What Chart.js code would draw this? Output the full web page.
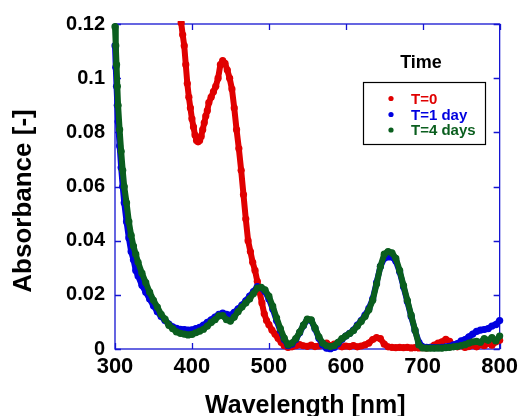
<!DOCTYPE html>
<html><head><meta charset="utf-8">
<script src="https://cdn.jsdelivr.net/npm/chart.js@4/dist/chart.umd.min.js"></script>
<style>html,body{margin:0;padding:0;background:#fff;}canvas{display:block;}</style>
</head><body>
<canvas id="c" width="523" height="416"></canvas>
<script>
// ---- data ----
const wavelengthT0 = [386,388,390,392,394,396,398,400,402,404,406,408,410,412,414,416,418,420,422,425,428,431,434,437,440,443,446,449,452,455,458,461,464,467,470,473,476,479,482,485,488,491,494,497,500,504,508,512,516,520,525,530,535,540,545,550,555,560,565,570,575,580,585,590,595,600,605,610,615,620,625,630,635,640,645,650,655,660,665,670,675,680,685,690,695,700,705,710,715,720,725,730,735,740,745,750,755,760,765,770,775,780,785,790,795,800];
const absorbanceT0 = [0.1205,0.116,0.112,0.105,0.098,0.093,0.089,0.085,0.082,0.079,0.077,0.0765,0.077,0.0785,0.081,0.0835,0.086,0.088,0.091,0.093,0.095,0.097,0.100,0.105,0.1065,0.1055,0.103,0.100,0.096,0.089,0.081,0.074,0.066,0.057,0.048,0.040,0.036,0.032,0.029,0.025,0.021,0.017,0.013,0.0105,0.009,0.007,0.0055,0.004,0.0025,0.0012,0.0006,0.0008,0.0012,0.0016,0.0012,0.001,0.0014,0.0009,0.0011,0.0016,0.0022,0.0012,0.0018,0.0014,0.0008,0.0011,0.0009,0.0013,0.0008,0.0011,0.0015,0.0022,0.0035,0.0042,0.0038,0.0018,0.0008,0.0006,0.0005,0.0006,0.0005,0.0006,0.0004,0.0005,0.0004,0.0005,0.0004,0.0006,0.0014,0.0022,0.0026,0.0036,0.0028,0.0012,0.0008,0.0012,0.0006,0.0009,0.0014,0.0008,0.0016,0.0012,0.0022,0.0014,0.0026,0.0032];
const wavelengthAged = [300,301,302,303,304,306,308,310,312,315,318,321,324,327,330,335,340,345,350,355,360,365,370,375,380,385,390,395,400,405,410,415,420,425,430,435,440,445,450,455,460,465,470,475,480,485,490,495,500,505,510,515,520,525,530,535,540,545,550,555,560,565,570,575,580,585,590,595,600,605,610,615,620,625,630,635,640,645,650,655,660,665,670,675,680,685,690,695,700,705,710,715,720,725,730,735,740,745,750,755,760,765,770,775,780,785,790,795,800];
const absorbanceT1 = [0.112,0.104,0.097,0.090,0.084,0.075,0.067,0.060,0.054,0.047,0.041,0.036,0.033,0.029,0.027,0.0235,0.021,0.0185,0.016,0.0138,0.012,0.0105,0.0092,0.0082,0.0076,0.0073,0.0072,0.007,0.0071,0.0075,0.008,0.0088,0.0098,0.0108,0.0118,0.0128,0.0133,0.0128,0.0125,0.0135,0.0148,0.0162,0.0178,0.0195,0.0212,0.023,0.0226,0.0212,0.0185,0.0148,0.0105,0.0068,0.0035,0.0012,0.0018,0.0035,0.006,0.0087,0.0108,0.0105,0.0075,0.004,0.0015,0.0003,0.0001,0.0006,0.002,0.0035,0.0048,0.0058,0.007,0.0088,0.0105,0.0125,0.015,0.0185,0.0245,0.0305,0.0335,0.034,0.034,0.0325,0.0285,0.023,0.0175,0.012,0.0068,0.0025,0.0008,0.0006,0.0006,0.0005,0.0005,0.0006,0.0008,0.001,0.0015,0.002,0.003,0.0035,0.0045,0.0055,0.0065,0.007,0.0072,0.0075,0.0085,0.009,0.0105];
const absorbanceT4 = [0.119,0.112,0.105,0.097,0.090,0.081,0.073,0.066,0.060,0.054,0.047,0.042,0.038,0.035,0.032,0.028,0.0245,0.021,0.018,0.0155,0.0128,0.011,0.0088,0.0075,0.0063,0.0058,0.0055,0.0052,0.0054,0.006,0.0066,0.0073,0.0085,0.0098,0.0108,0.0122,0.0123,0.0108,0.0103,0.0118,0.0138,0.0155,0.017,0.0185,0.0205,0.0225,0.0228,0.0218,0.0195,0.0158,0.0115,0.0075,0.004,0.0015,0.0022,0.0038,0.0062,0.0088,0.011,0.0108,0.0078,0.0045,0.0022,0.0012,0.0009,0.0012,0.0025,0.0038,0.0048,0.0057,0.0068,0.0085,0.0102,0.012,0.0145,0.018,0.024,0.0305,0.035,0.036,0.0355,0.0335,0.029,0.0235,0.018,0.0125,0.007,0.0015,0.0004,0.0003,0.0003,0.0003,0.0004,0.0003,0.0005,0.0006,0.0008,0.001,0.0013,0.0016,0.0022,0.0026,0.0028,0.0025,0.0038,0.0032,0.0042,0.003,0.0048];
const seriesLabels = ['T=0', 'T=1 day', 'T=4 days'];
const legendTitle = 'Time';
const xTickLabels = ['300', '400', '500', '600', '700', '800'];
const yTickLabels = ['0', '0.02', '0.04', '0.06', '0.08', '0.1', '0.12'];
const xAxisTitle = 'Wavelength [nm]';
const yAxisTitle = 'Absorbance [-]';

// ---- styling ----
const seriesColors = ['#e00000', '#0000e0', '#0a5e1e'];
const FONT = '"Liberation Sans", Arial, Helvetica, sans-serif';
const AXIS_COLOR = '#1414d2';

function toPoints(xs, ys) { return xs.map((x, i) => ({ x: x, y: ys[i] })); }

const seriesData = [
  toPoints(wavelengthT0, absorbanceT0),
  toPoints(wavelengthAged, absorbanceT1),
  toPoints(wavelengthAged, absorbanceT4)
];

const datasets = seriesData.map((d, i) => ({
  label: seriesLabels[i],
  data: d,
  showLine: true,
  borderColor: seriesColors[i],
  backgroundColor: seriesColors[i],
  borderWidth: 6,
  borderJoinStyle: 'round',
  borderCapStyle: 'round',
  pointRadius: 3.6,
  pointBorderWidth: 0,
  pointHoverRadius: 3.6,
  tension: 0,
  order: 3 - i,
  clip: { left: 5, top: 3, right: 6, bottom: 6 }
}));

const framePlugin = {
  id: 'frame',
  beforeDatasetsDraw(chart) {
    const { ctx, chartArea: a, scales } = chart;
    ctx.save();
    ctx.strokeStyle = AXIS_COLOR;
    ctx.lineWidth = 1.3;
    ctx.strokeRect(a.left, a.top, a.right - a.left, a.bottom - a.top);
    const L = 6;
    ctx.beginPath();
    scales.x.ticks.forEach(t => {
      const px = Math.round(scales.x.getPixelForValue(t.value)) + 0.5;
      ctx.moveTo(px, a.bottom); ctx.lineTo(px, a.bottom - L);
      ctx.moveTo(px, a.top); ctx.lineTo(px, a.top + L);
    });
    scales.y.ticks.forEach(t => {
      const py = Math.round(scales.y.getPixelForValue(t.value)) + 0.5;
      ctx.moveTo(a.left, py); ctx.lineTo(a.left + L, py);
      ctx.moveTo(a.right, py); ctx.lineTo(a.right - L, py);
    });
    ctx.stroke();
    ctx.restore();
  },
  afterDraw(chart) {
    const { ctx, chartArea: a } = chart;
    ctx.save();
    ctx.fillStyle = '#000';
    // axis titles
    ctx.font = 'bold 25px ' + FONT;
    ctx.textAlign = 'center';
    ctx.textBaseline = 'alphabetic';
    ctx.fillText(xAxisTitle, (a.left + a.right) / 2 - 2, 413);
    ctx.save();
    ctx.translate(31, 201);
    ctx.rotate(-Math.PI / 2);
    ctx.font = 'bold 26px ' + FONT;
    ctx.fillText(yAxisTitle, 0, 0);
    ctx.restore();
    // legend
    ctx.font = 'bold 18px ' + FONT;
    ctx.textAlign = 'center';
    ctx.fillText(legendTitle, 421, 68);
    ctx.strokeStyle = '#000';
    ctx.lineWidth = 1.2;
    ctx.strokeRect(363.5, 82.5, 122, 62);
    const baselines = [103.5, 119.5, 135];
    ctx.font = 'bold 15px ' + FONT;
    ctx.textAlign = 'left';
    seriesLabels.forEach((lab, i) => {
      ctx.fillStyle = seriesColors[i];
      ctx.beginPath();
      ctx.arc(391, baselines[i] - 5, 2.6, 0, Math.PI * 2);
      ctx.fill();
      ctx.fillText(lab, 411, baselines[i]);
    });
    ctx.restore();
  }
};

new Chart(document.getElementById('c'), {
  type: 'scatter',
  data: { datasets: datasets },
  options: {
    responsive: false,
    animation: false,
    events: [],
    layout: { padding: { top: 24, right: 18, left: 0, bottom: 0 } },
    plugins: { legend: { display: false }, tooltip: { enabled: false } },
    scales: {
      x: {
        type: 'linear', min: 300, max: 800,
        grid: { display: false, drawTicks: false },
        border: { display: false },
        afterFit(s) { s.height = 67; },
        ticks: {
          stepSize: 100, padding: 5, color: '#000', maxRotation: 0,
          font: { family: FONT, weight: 'bold', size: 22 },
          callback: (v, i) => xTickLabels[i]
        }
      },
      y: {
        type: 'linear', min: 0, max: 0.12,
        grid: { display: false, drawTicks: false },
        border: { display: false },
        afterFit(s) { s.width = 115; },
        ticks: {
          stepSize: 0.02, padding: 10, color: '#000',
          font: { family: FONT, weight: 'bold', size: 20 },
          callback: (v, i) => yTickLabels[i]
        }
      }
    }
  },
  plugins: [framePlugin]
});
</script>
</body></html>
